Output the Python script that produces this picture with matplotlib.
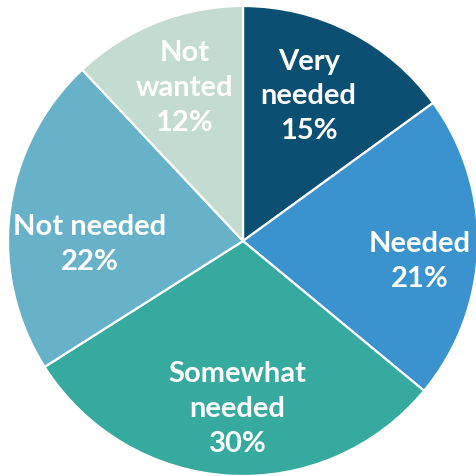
import matplotlib
matplotlib.use('Agg')
import matplotlib.pyplot as plt

# Survey answers, clockwise from 12 o'clock
labels = ['Very\nneeded', 'Needed', 'Somewhat\nneeded', 'Not needed', 'Not\nwanted']
shares = [15, 21, 30, 22, 12]
colors = ['#0b4f72', '#3a92cf', '#36aa9f', '#67b1c9', '#c3dbd0']

# small hand nudges for the labels (pixels: right, down)
nudges = [(-9, 2), (12, 15), (5, 4), (10, 24), (2, 0)]

plt.rcParams['font.family'] = ['Lato', 'DejaVu Sans']

fig = plt.figure(figsize=(4.77, 4.76), dpi=100)
ax = fig.add_axes([0, 0, 1, 1])

texts = ['{}\n{}%'.format(l, s) for l, s in zip(labels, shares)]
wedges, txt = ax.pie(shares, labels=texts, colors=colors, startangle=90,
                     counterclock=False, labeldistance=0.7,
                     wedgeprops={'edgecolor': 'white', 'linewidth': 1.6})
R = 235.0  # pie radius in pixels
for t, (dx, dy) in zip(txt, nudges):
    x, y = t.get_position()
    t.set_position((x + dx/R, y - dy/R))
    t.set_ha('center')
    t.set_va('center')
    t.set_color('white')
    t.set_fontsize(21)
    t.set_fontweight('bold')
    t.set_linespacing(1.42)

# pie radius is 1; place it so it fills the canvas
ax.set_xlim(-243/R, 234/R)
ax.set_ylim(-235/R, 241/R)
ax.set_aspect('auto')
ax.axis('off')

plt.savefig('out.png', dpi=100)
